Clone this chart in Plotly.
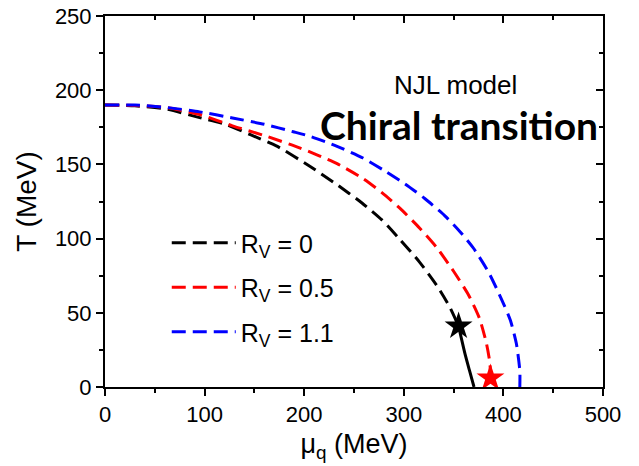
import plotly.graph_objects as go

# Chiral phase boundary T(mu_q) from the NJL model for three vector couplings
mu_rv0 = [0, 30, 60, 95, 122, 146, 172, 206, 233, 258, 278, 296, 316, 333, 346, 355]
T_rv0 = [190, 189.5, 187.5, 181.5, 176.8, 170, 162.5, 148.6, 136.3, 124, 112.6, 99.5, 84, 68.5, 54, 41]

# first-order segment below the critical end point (R_V = 0)
mu_rv0_first = [355, 361.4, 366, 370.5]
T_rv0_first = [41, 22.5, 11, 0]

mu_rv05 = [0, 30, 60, 95, 128, 162, 196, 233, 259, 278, 296, 316, 333, 350, 365, 376, 383, 386.5, 387]
T_rv05 = [190, 189.7, 188.5, 183.6, 176, 169, 161, 150.5, 140.5, 131, 120.5, 107, 94, 78, 62, 46.2, 29.3, 15.8, 6]

mu_rv11 = [0, 30, 60, 95, 128, 160, 189, 206, 233, 259, 280, 301, 321, 341, 356, 370, 385, 397, 407, 413, 416.5, 416.5]
T_rv11 = [190, 190, 188.5, 185.4, 181.3, 177, 172, 168.9, 162.2, 154.3, 146, 137, 127, 115.5, 105, 93.5, 77.5, 60.8, 45, 29.3, 11, 0]

# critical end points
cep_mu = [355, 387]
cep_T = [41, 6]
cep_colors = ["black", "red"]

series_names = ["R<sub>V</sub> = 0", "R<sub>V</sub> = 0.5", "R<sub>V</sub> = 1.1"]
series_colors = ["black", "red", "blue"]

x_ticks = [0, 100, 200, 300, 400, 500]
y_ticks = [0, 50, 100, 150, 200, 250]

FONT = "Arial, Liberation Sans, sans-serif"
DASH = "14px,7px"

fig = go.Figure()

curves = [(mu_rv0, T_rv0), (mu_rv05, T_rv05), (mu_rv11, T_rv11)]
for i, ((mx, ty), name, col) in enumerate(zip(curves, series_names, series_colors)):
    fig.add_trace(go.Scatter(
        x=mx, y=ty, mode="lines", name=name, legendgroup=f"g{i}",
        line=dict(color=col, width=3, dash=DASH, shape="spline", smoothing=0.6),
        hoverinfo="skip",
    ))

fig.add_trace(go.Scatter(
    x=mu_rv0_first, y=T_rv0_first, mode="lines", showlegend=False,
    line=dict(color="black", width=3, shape="spline", smoothing=0.6),
    hoverinfo="skip",
))

fig.add_trace(go.Scatter(
    x=cep_mu, y=cep_T, mode="markers", showlegend=False,
    marker=dict(symbol="star", size=21, color=cep_colors, line=dict(width=0)),
    hoverinfo="skip",
))

# empty trace that carries the mirrored top/right frame with inward ticks
fig.add_trace(go.Scatter(x=[None], y=[None], xaxis="x2", yaxis="y2",
                         showlegend=False, hoverinfo="skip"))

axis_common = dict(
    showline=True, linecolor="black", linewidth=2,
    showgrid=False, zeroline=False, automargin=False,
    ticklen=7, tickwidth=2, tickcolor="black",
)

fig.update_layout(
    width=639, height=466,
    margin=dict(l=105, r=36, t=16, b=79, autoexpand=False),
    paper_bgcolor="white", plot_bgcolor="white",
    font=dict(family=FONT, color="black"),
    xaxis=dict(
        **axis_common, range=[0, 500], tickvals=x_ticks, ticks="outside",
        minor=dict(dtick=50, ticks="outside", ticklen=4, tickwidth=1.5, tickcolor="black"),
        tickfont=dict(size=22, family=FONT),
        title=dict(text="\u03bc<sub>q</sub> (MeV)", font=dict(size=27, family=FONT), standoff=8),
    ),
    yaxis=dict(
        **axis_common, range=[0, 250], tickvals=y_ticks, ticks="outside",
        minor=dict(dtick=25, ticks="outside", ticklen=4, tickwidth=1.5, tickcolor="black"),
        tickfont=dict(size=22, family=FONT),
        title=dict(text="T (MeV)", font=dict(size=28, family=FONT), standoff=10),
    ),
    xaxis2=dict(
        **axis_common, range=[0, 500], tickvals=x_ticks, ticks="inside",
        minor=dict(dtick=50, ticks="inside", ticklen=4, tickwidth=1.5, tickcolor="black"),
        showticklabels=False, overlaying="x", side="top", anchor="y2",
    ),
    yaxis2=dict(
        **axis_common, range=[0, 250], tickvals=y_ticks, ticks="inside",
        minor=dict(dtick=25, ticks="inside", ticklen=4, tickwidth=1.5, tickcolor="black"),
        showticklabels=False, overlaying="y", side="right", anchor="x2",
    ),
    legend=dict(
        x=0.124, y=0.45, xanchor="left", yanchor="top",
        bgcolor="rgba(0,0,0,0)", borderwidth=0,
        font=dict(size=25, family=FONT),
        itemwidth=64, tracegroupgap=9, traceorder="grouped",
    ),
    annotations=[
        dict(text="NJL model", x=0.703, y=0.815, xref="paper", yref="paper",
             xanchor="center", yanchor="middle",
             showarrow=False, font=dict(size=26, family=FONT)),
        dict(text="<b>Chiral transition</b>", x=0.711, y=0.705, xref="paper", yref="paper",
             xanchor="center", yanchor="middle",
             showarrow=False, font=dict(size=39, family="Lato, sans-serif")),
    ],
)

fig.write_html("out.html")
